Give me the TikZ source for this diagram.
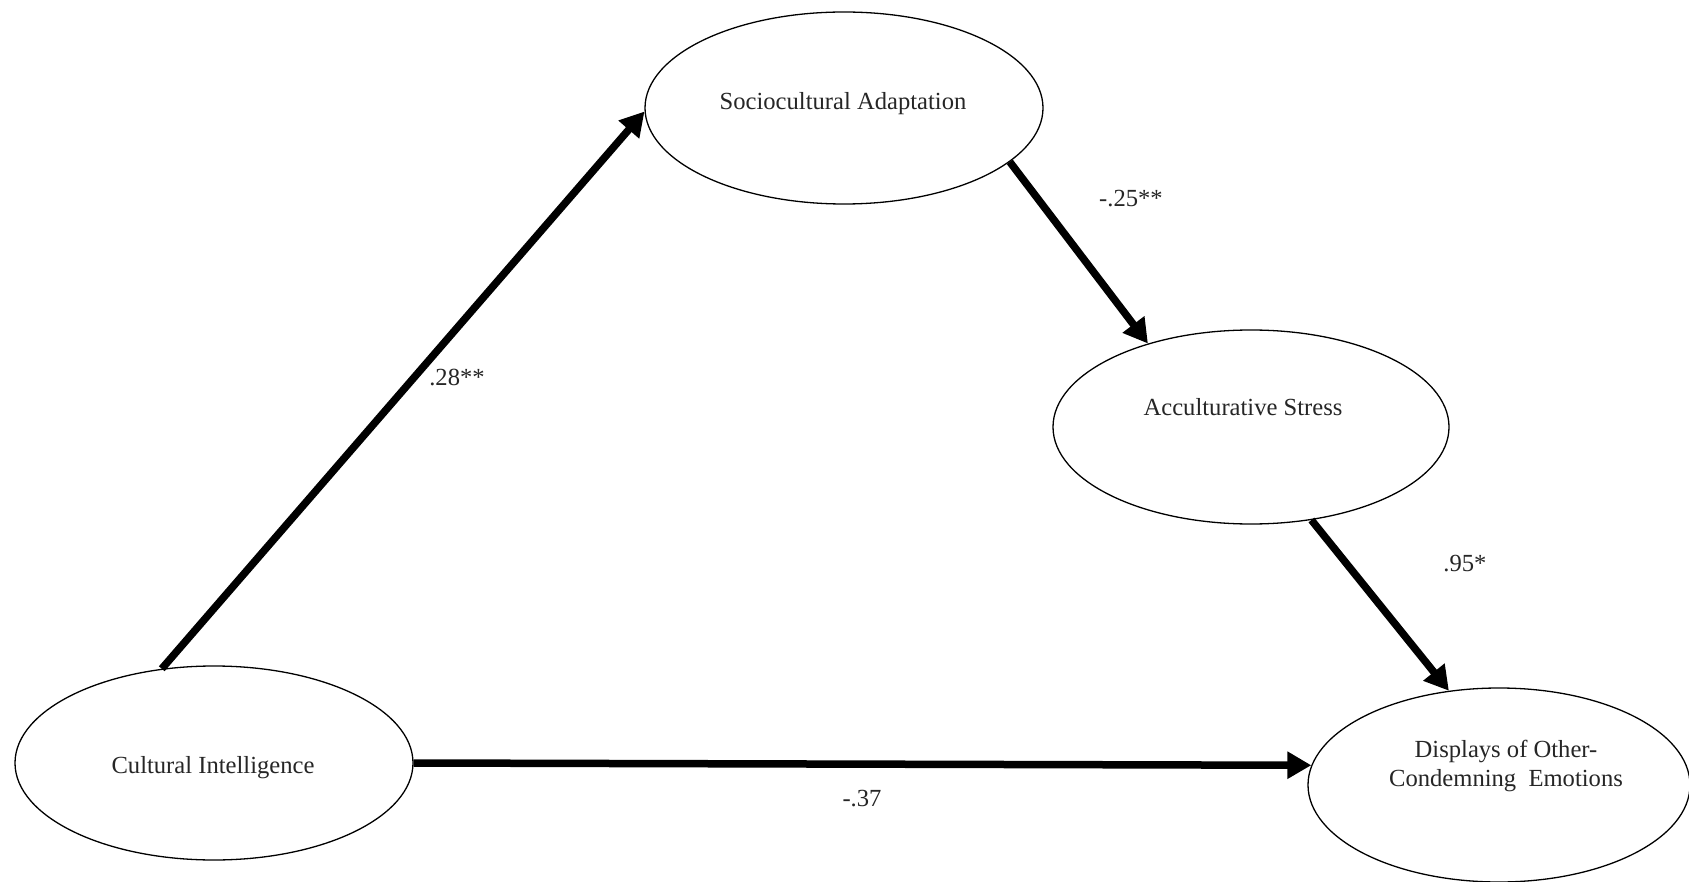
\documentclass[tikz,border=0pt]{standalone}
\usepackage{fontspec}
\setmainfont{Liberation Serif}
\usetikzlibrary{shapes.geometric,arrows.meta}
\begin{document}
\begin{tikzpicture}[x=1pt,y=-1pt,
  latent/.style={ellipse,draw,line width=1.3pt,inner sep=0pt},
  effect/.style={line width=7.5pt,-{Triangle[length=24pt,width=26pt]}},
  txt/.style={font=\fontsize{24.6}{29}\selectfont,text=black!85,inner sep=0pt,align=center}
]
\useasboundingbox (0,0) rectangle (1689,882);
\fill[white] (0,0) rectangle (1689,882);

\node[latent,minimum width=398pt,minimum height=192pt] (sa) at (844,108) {};
\node[latent,minimum width=396pt,minimum height=194pt] (as) at (1251,427) {};
\node[latent,minimum width=398pt,minimum height=194pt] (ci) at (214,763) {};
\node[latent,minimum width=382pt,minimum height=194pt] (de) at (1499,785) {};

\node[txt] (saT) at (843,104) {Sociocultural Adaptation};
\node[txt] (asT) at (1243,407) {Acculturative Stress};
\node[txt] (ciT) at (213,768) {Cultural Intelligence};
\node[txt] (deT) at (1506,766) {Displays of Other-\\Condemning\ \ Emotions};

\draw[effect] (ci.119) -- (sa.181.5);
\draw[effect] (sa.-18.5) -- (as.141.6);
\draw[effect] (as.-57.5) -- (de.118.6);
\draw[effect] (ci.0.8) -- (de.174.5);

\node[txt] (l1) at (457,377) {.28**};
\node[txt] (l2) at (1131,199) {-.25**};
\node[txt] (l3) at (1465,564) {.95*};
\node[txt] (l4) at (862,799) {-.37};
\end{tikzpicture}
\end{document}
